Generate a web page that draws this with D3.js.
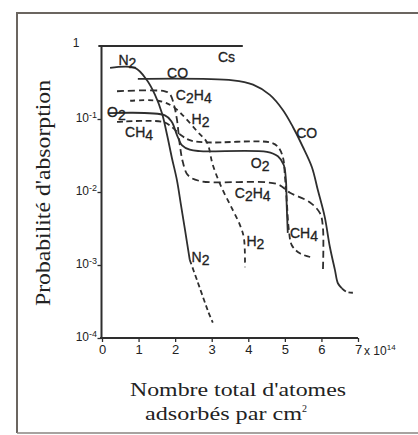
<!DOCTYPE html>
<html><head><meta charset="utf-8">
<script src="https://cdn.jsdelivr.net/npm/d3@7"></script>
<style>
body{margin:0;background:#fff;}
svg{display:block;}
</style></head>
<body><svg id="c" width="418" height="435"></svg>
<script>
// ---- data (x in units of 10^14 atoms/cm^2, y = absorption probability, as log10) ----
const xTicks = [0,1,2,3,4,5,6,7];
const yTicks = [1,1e-1,1e-2,1e-3,1e-4];
const yTickExp = [null,"-1","-2","-3","-4"];

const csX = [-0.1, 3.85];
const csY = [1, 1];

const n2X = [0.22,0.90,1.23,1.45,1.64,1.78,1.91,2.05,2.16,2.27,2.40];
const n2L = [-0.30,-0.30,-0.47,-0.67,-0.92,-1.22,-1.53,-1.84,-2.18,-2.52,-2.93];
const n2TailX = [2.40,2.60,2.79,2.92,3.03];
const n2TailL = [-2.93,-3.21,-3.48,-3.66,-3.79];

const coX = [0.98,3.58,4.13,4.59,4.95,5.22,5.49,5.74,5.90,6.09,6.23,6.37,6.45,6.56];
const coL = [-0.45,-0.47,-0.53,-0.67,-0.88,-1.11,-1.38,-1.66,-1.97,-2.34,-2.75,-3.07,-3.25,-3.32];
const coTailX = [6.56,6.69,6.86];
const coTailL = [-3.32,-3.37,-3.38];

const o2X = [0.16,1.72,1.91,2.05,2.19,2.40,2.68,4.51,4.81,4.97,5.03,5.05,5.08];
const o2L = [-0.92,-0.95,-1.04,-1.22,-1.36,-1.42,-1.44,-1.45,-1.51,-1.63,-1.84,-2.18,-2.56];

const ch4X = [0.41,1.67,1.91,2.13,2.40,2.87,4.59,4.81,4.95,5.00,5.05,5.11,5.19,5.41,5.77];
const ch4L = [-1.04,-1.04,-1.11,-1.21,-1.29,-1.32,-1.32,-1.38,-1.53,-1.77,-2.11,-2.52,-2.73,-2.84,-2.90];

const c2h4X = [0.41,1.72,1.86,1.97,2.05,2.13,2.21,2.35,2.68,4.78,5.14,5.68,5.96,6.04,6.04];
const c2h4L = [-0.62,-0.62,-0.66,-0.81,-1.01,-1.36,-1.59,-1.77,-1.85,-1.89,-2.01,-2.14,-2.29,-2.48,-3.10];

const h2X = [0.77,1.53,1.91,2.21,2.62,2.87,3.03,3.28,3.55,3.77,3.88,3.91];
const h2L = [-0.75,-0.75,-0.82,-0.95,-1.18,-1.32,-1.63,-1.95,-2.22,-2.45,-2.63,-3.03];

// curve labels: text parts ([text, isSubscript]) and anchor in data units
const labels = [
  {parts:[["Cs",0]], x:3.17, l:-0.22},
  {parts:[["N",0],["2",1]], x:0.45, l:-0.26},
  {parts:[["CO",0]], x:1.78, l:-0.44},
  {parts:[["C",0],["2",1],["H",0],["4",1]], x:2.02, l:-0.74},
  {parts:[["O",0],["2",1]], x:0.14, l:-0.97},
  {parts:[["CH",0],["4",1]], x:0.63, l:-1.25},
  {parts:[["H",0],["2",1]], x:2.45, l:-1.07},
  {parts:[["CO",0]], x:5.31, l:-1.26},
  {parts:[["O",0],["2",1]], x:4.07, l:-1.67},
  {parts:[["C",0],["2",1],["H",0],["4",1]], x:3.63, l:-2.08},
  {parts:[["H",0],["2",1]], x:3.95, l:-2.74},
  {parts:[["CH",0],["4",1]], x:5.14, l:-2.63},
  {parts:[["N",0],["2",1]], x:2.45, l:-2.96}
];

// ---- drawing ----
const svg = d3.select("#c");
const ink = "#2e2e2e";
const x = d3.scaleLinear().domain([0,7]).range([102,358]);
const y = d3.scaleLog().domain([1e-4,1]).range([338,46]);

// outer frame
svg.append("path").attr("d","M17,433 L17,13 L420,13").attr("fill","none").attr("stroke","#6b6560").attr("stroke-width",2);
svg.append("line").attr("x1",17).attr("x2",420).attr("y1",433).attr("y2",433).attr("stroke","#8a8580").attr("stroke-width",1.5);

// axes
const yAx = svg.append("g").attr("transform","translate(101.5,0)")
  .call(d3.axisLeft(y).tickValues(yTicks.slice(1)).tickSize(4).tickFormat(""));
yAx.select(".domain").attr("stroke",ink).attr("stroke-width",2).attr("d","M0,46V338");
yAx.selectAll(".tick line").attr("stroke",ink).attr("stroke-width",1.3);

const xAx = svg.append("g").attr("transform","translate(0,338)")
  .call(d3.axisBottom(x).tickValues(xTicks).tickSize(4).tickFormat(d=>d).tickPadding(3));
xAx.select(".domain").attr("stroke",ink).attr("stroke-width",2).attr("d","M100,0H358");
xAx.selectAll(".tick line").attr("stroke",ink).attr("stroke-width",1.3);
xAx.selectAll(".tick text").attr("fill","#222").style("font-family","'Liberation Sans',Arial,sans-serif").style("font-size","13px");

// x multiplier
const mult = svg.append("text").attr("x",x(7)+6).attr("y",355).attr("fill","#222")
  .style("font-family","'Liberation Sans',Arial,sans-serif").style("font-size","12px");
mult.append("tspan").text("x 10");
mult.append("tspan").attr("dy",-5).style("font-size","8px").text("14");

// y tick labels
yTicks.forEach((v,i)=>{
  const t = svg.append("text").attr("fill","#222")
    .style("font-family","'Liberation Sans',Arial,sans-serif").style("font-size","12px");
  if(yTickExp[i]===null){
    t.attr("x",76).attr("y",y(v)+1).attr("text-anchor","middle").text("1");
  } else {
    t.attr("x",97).attr("y",y(v)+3).attr("text-anchor","end");
    t.append("tspan").text("10");
    t.append("tspan").attr("dy",-4).style("font-size","9px").text(yTickExp[i]);
  }
});

// axis titles
const serif = "'Liberation Serif','Times New Roman',serif";
svg.append("text").attr("transform","translate(50,193) rotate(-90)").attr("text-anchor","middle")
  .attr("fill","#222").style("font-family",serif).style("font-size","21px")
  .attr("textLength",226).attr("lengthAdjust","spacingAndGlyphs")
  .text("Probabilité d'absorption");
svg.append("text").attr("x",238).attr("y",396).attr("text-anchor","middle")
  .attr("fill","#222").style("font-family",serif).style("font-size","19px")
  .attr("textLength",216).attr("lengthAdjust","spacingAndGlyphs")
  .text("Nombre total d'atomes");
const t2 = svg.append("text").attr("x",226).attr("y",420).attr("text-anchor","middle")
  .attr("fill","#222").style("font-family",serif).style("font-size","19px");
t2.append("tspan").attr("textLength",157).attr("lengthAdjust","spacingAndGlyphs").text("adsorbés par cm");
t2.append("tspan").attr("dy",-8).style("font-size","10px").text("2");

// curves
const lineC = d3.line().x(d=>x(d[0])).y(d=>y(Math.pow(10,d[1]))).curve(d3.curveCatmullRom.alpha(0.5));
function draw(xs, ls, dash, w){
  const pts = xs.map((v,i)=>[v, ls[i]]);
  svg.append("path").attr("d", lineC(pts)).attr("fill","none").attr("stroke",ink)
    .attr("stroke-width", w||1.8).attr("stroke-dasharray", dash||null).attr("stroke-linejoin","round");
}
draw(csX, csY.map(v=>Math.log10(v)), null, 2.2);
draw(n2X, n2L);
draw(n2TailX, n2TailL, "5,3");
draw(coX, coL);
draw(coTailX, coTailL, "5,3");
draw(o2X, o2L);
draw(ch4X, ch4L, "6,3.5");
draw(c2h4X, c2h4L, "7,4");
draw(h2X, h2L, "5,4");

// curve labels
labels.forEach(lb=>{
  const t = svg.append("text").attr("x",x(lb.x)).attr("y",y(Math.pow(10,lb.l))).attr("fill","#222")
    .attr("stroke","#222").attr("stroke-width",0.3)
    .style("font-family","'Liberation Sans',Arial,sans-serif").style("font-size","14px");
  let sub=false;
  lb.parts.forEach(p=>{
    const s = t.append("tspan").text(p[0]);
    if(p[1] && !sub){ s.attr("dy",3); sub=true; }
    else if(!p[1] && sub){ s.attr("dy",-3); sub=false; }
  });
});
</script></body></html>
